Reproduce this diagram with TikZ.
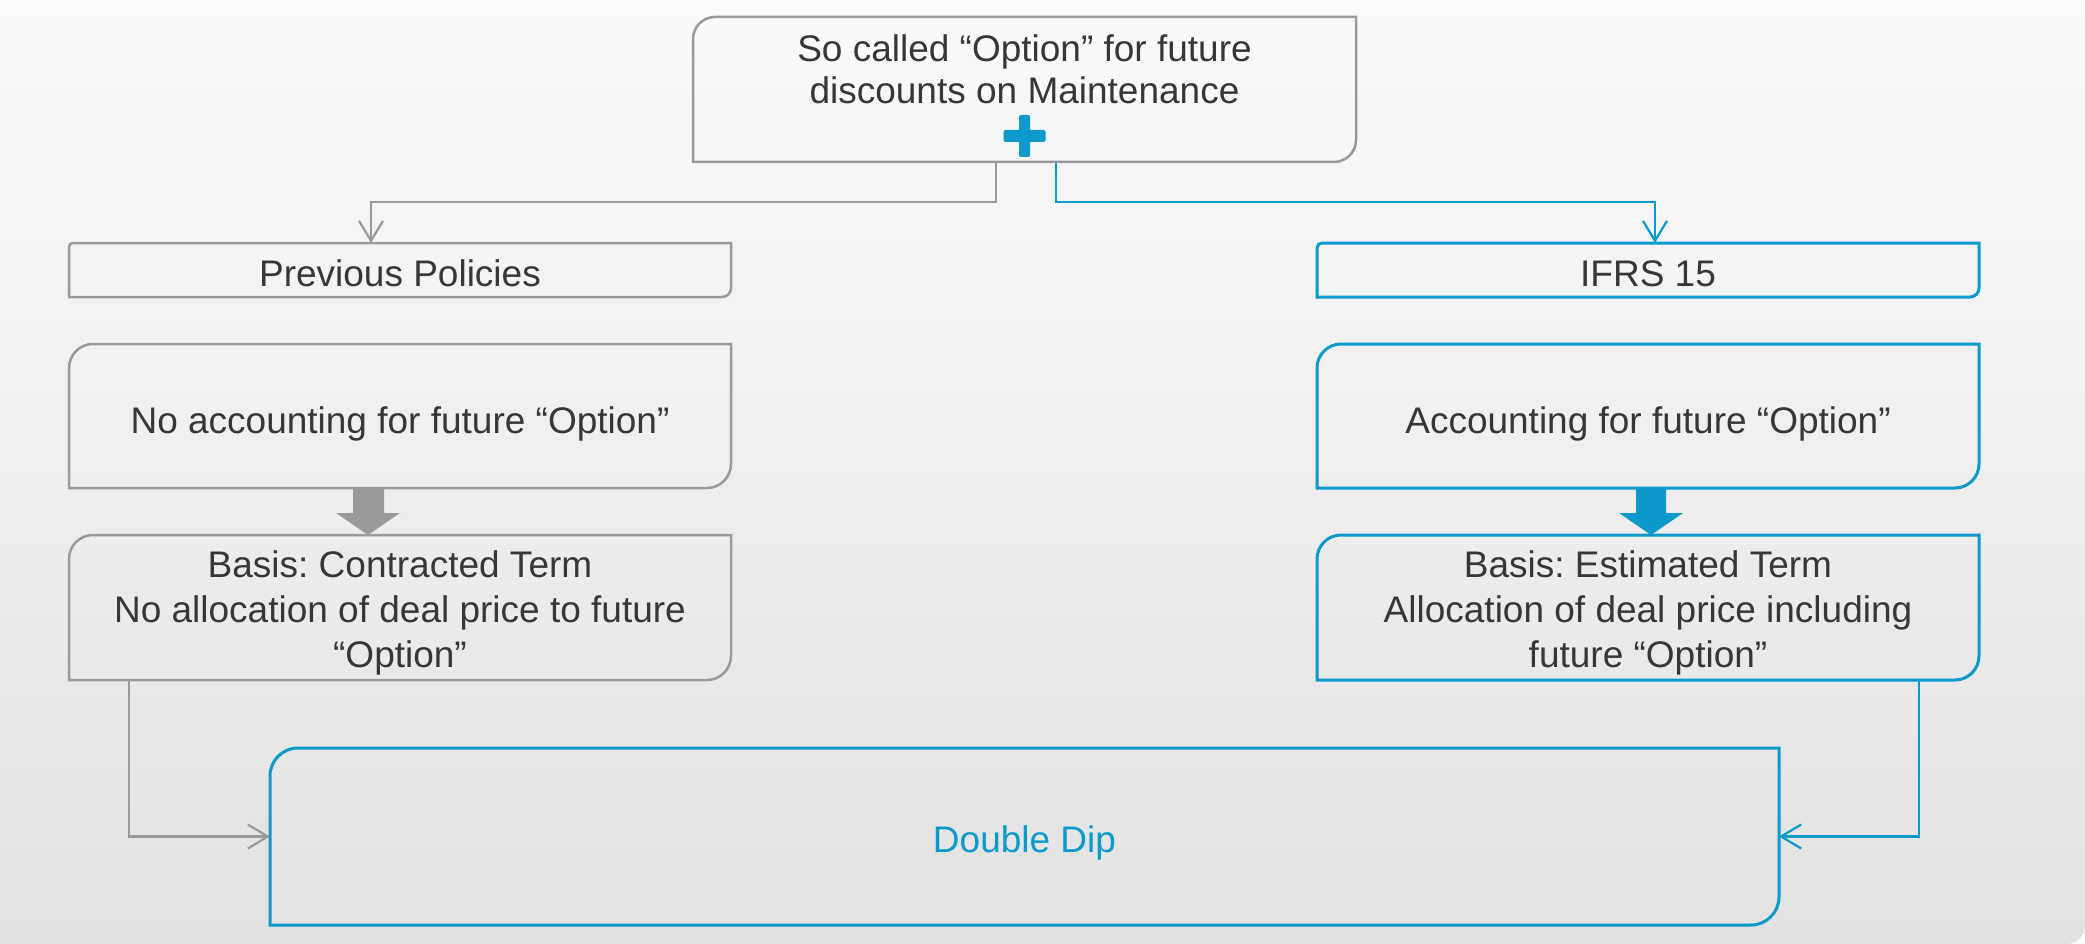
\documentclass[tikz,border=0pt]{standalone}
\usepackage{fontspec}
\setmainfont{Liberation Sans}
\usetikzlibrary{arrows.meta,calc}
\frenchspacing

\definecolor{ifrsblue}{RGB}{12,153,204}
\definecolor{linegray}{RGB}{154,154,154}
\definecolor{textgray}{RGB}{55,55,55}
\definecolor{bgtop}{RGB}{251,251,251}
\definecolor{bgbottom}{RGB}{226,226,226}

% outline of a box with a rounded top-left and bottom-right corner
% #1 style, #2 node, #3 top-left radius, #4 bottom-right radius
\newcommand\cornerbox[4]{%
  \draw[#1] (#2.north east) -- ([xshift=#3pt]#2.north west)
    arc[start angle=90,end angle=180,radius=#3pt] -- (#2.south west)
    -- ([xshift=-#4pt]#2.south east)
    arc[start angle=270,end angle=360,radius=#4pt] -- cycle;}

\begin{document}
\begin{tikzpicture}[x=1pt,y=1pt,
  area/.style={rectangle, inner sep=0pt, outer sep=0pt},
  label text/.style={inner sep=0pt, outer sep=0pt, anchor=base, align=center,
    text=textgray, font=\fontsize{37}{45}\selectfont},
  grayedge/.style={draw=linegray, line width=2.5pt},
  blueedge/.style={draw=ifrsblue, line width=3pt},
  grayconn/.style={draw=linegray, line width=2.2pt,
    -{Straight Barb[length=20pt,width=24pt]}},
  blueconn/.style={draw=ifrsblue, line width=2.2pt,
    -{Straight Barb[length=20pt,width=24pt]}}]

% page background
\fill[white] (0,0) rectangle (2085,-944);
\shade[top color=bgtop, bottom color=bgbottom] (0,0) -- (2085,0) -- (2085,-926)
  arc[start angle=0,end angle=-90,radius=18] -- (0,-944) -- cycle;
\useasboundingbox (0,0) rectangle (2085,-944);

% boxes
\node[area, minimum width=663pt, minimum height=145pt] (top) at (1024.5,-89.5) {};
\node[area, minimum width=662pt, minimum height=54pt] (prev) at (400,-270) {};
\node[area, minimum width=662pt, minimum height=54pt] (ifrs) at (1648,-270) {};
\node[area, minimum width=662pt, minimum height=144pt] (b2L) at (400,-416) {};
\node[area, minimum width=662pt, minimum height=144pt] (b2R) at (1648,-416) {};
\node[area, minimum width=662pt, minimum height=145pt] (b3L) at (400,-607.5) {};
\node[area, minimum width=662pt, minimum height=145pt] (b3R) at (1648,-607.5) {};
\node[area, minimum width=1509pt, minimum height=177pt] (dd) at (1024.5,-836.5) {};

% box texts, placed on the baseline of their last line
\node[label text, font=\fontsize{37}{42}\selectfont] (toptext) at (top.center |- 0,-104)
  {So called “Option” for future\\discounts on Maintenance};
\node[label text] (prevtext) at (prev.center |- 0,-286) {Previous Policies};
\node[label text] (ifrstext) at (ifrs.center |- 0,-286) {IFRS 15};
\node[label text] (b2Ltext) at (b2L.center |- 0,-433) {No accounting for future “Option”};
\node[label text] (b2Rtext) at (b2R.center |- 0,-433) {Accounting for future “Option”};
\node[label text] (b3Ltext) at (b3L.center |- 0,-667)
  {Basis: Contracted Term\\No allocation of deal price to future\\“Option”};
\node[label text] (b3Rtext) at (b3R.center |- 0,-667)
  {Basis: Estimated Term\\Allocation of deal price including\\future “Option”};
\node[label text, text=ifrsblue] (ddtext) at (dd.center |- 0,-852) {Double Dip};

% split connectors from the top box
\coordinate (gsplit) at ($(top.south)+(-28.5,-40)$);
\coordinate (bsplit) at ($(top.south)+(31.5,-40)$);
\draw[grayconn] (top.south -| gsplit) -- (gsplit) -| ($(prev.north)+(-29,0)$);
\draw[blueconn] (top.south -| bsplit) -- (bsplit) -| ($(ifrs.north)+(7,0)$);

% connectors into the result box
\draw[grayconn] ($(b3L.south west)+(60,0)$) |- (dd.west);
\draw[blueconn] ($(b3R.south east)+(-60,0)$) |- (dd.east);

% block arrows between the stacked boxes
\fill[linegray] ($(b2L.south)+(-47,0)$) -- ($(b2L.south)+(-16,0)$)
  -- ($(b2L.south)+(-16,-25)$) -- ($(b2L.south)+(0,-25)$)
  -- ($(b3L.north)+(-32,0)$) -- ($(b2L.south)+(-64,-25)$)
  -- ($(b2L.south)+(-47,-25)$) -- cycle;
\fill[ifrsblue] ($(b2R.south)+(-12,0)$) -- ($(b2R.south)+(18,0)$)
  -- ($(b2R.south)+(18,-25)$) -- ($(b2R.south)+(35,-25)$)
  -- ($(b3R.north)+(3,0)$) -- ($(b2R.south)+(-29,-25)$)
  -- ($(b2R.south)+(-12,-25)$) -- cycle;

% box outlines
\cornerbox{grayedge}{top}{22}{22}
\cornerbox{grayedge}{prev}{4}{9}
\cornerbox{blueedge}{ifrs}{5}{9}
\cornerbox{grayedge}{b2L}{24}{24}
\cornerbox{blueedge}{b2R}{24}{24}
\cornerbox{grayedge}{b3L}{24}{24}
\cornerbox{blueedge}{b3R}{24}{24}
\cornerbox{blueedge}{dd}{28}{28}

% plus sign
\fill[ifrsblue, rounded corners=2pt] ($(top.center)+(-5.5,-25.5)$) rectangle ($(top.center)+(5.5,-67.5)$);
\fill[ifrsblue, rounded corners=2pt] ($(top.center)+(-21,-40.5)$) rectangle ($(top.center)+(21,-52.5)$);
\end{tikzpicture}
\end{document}
